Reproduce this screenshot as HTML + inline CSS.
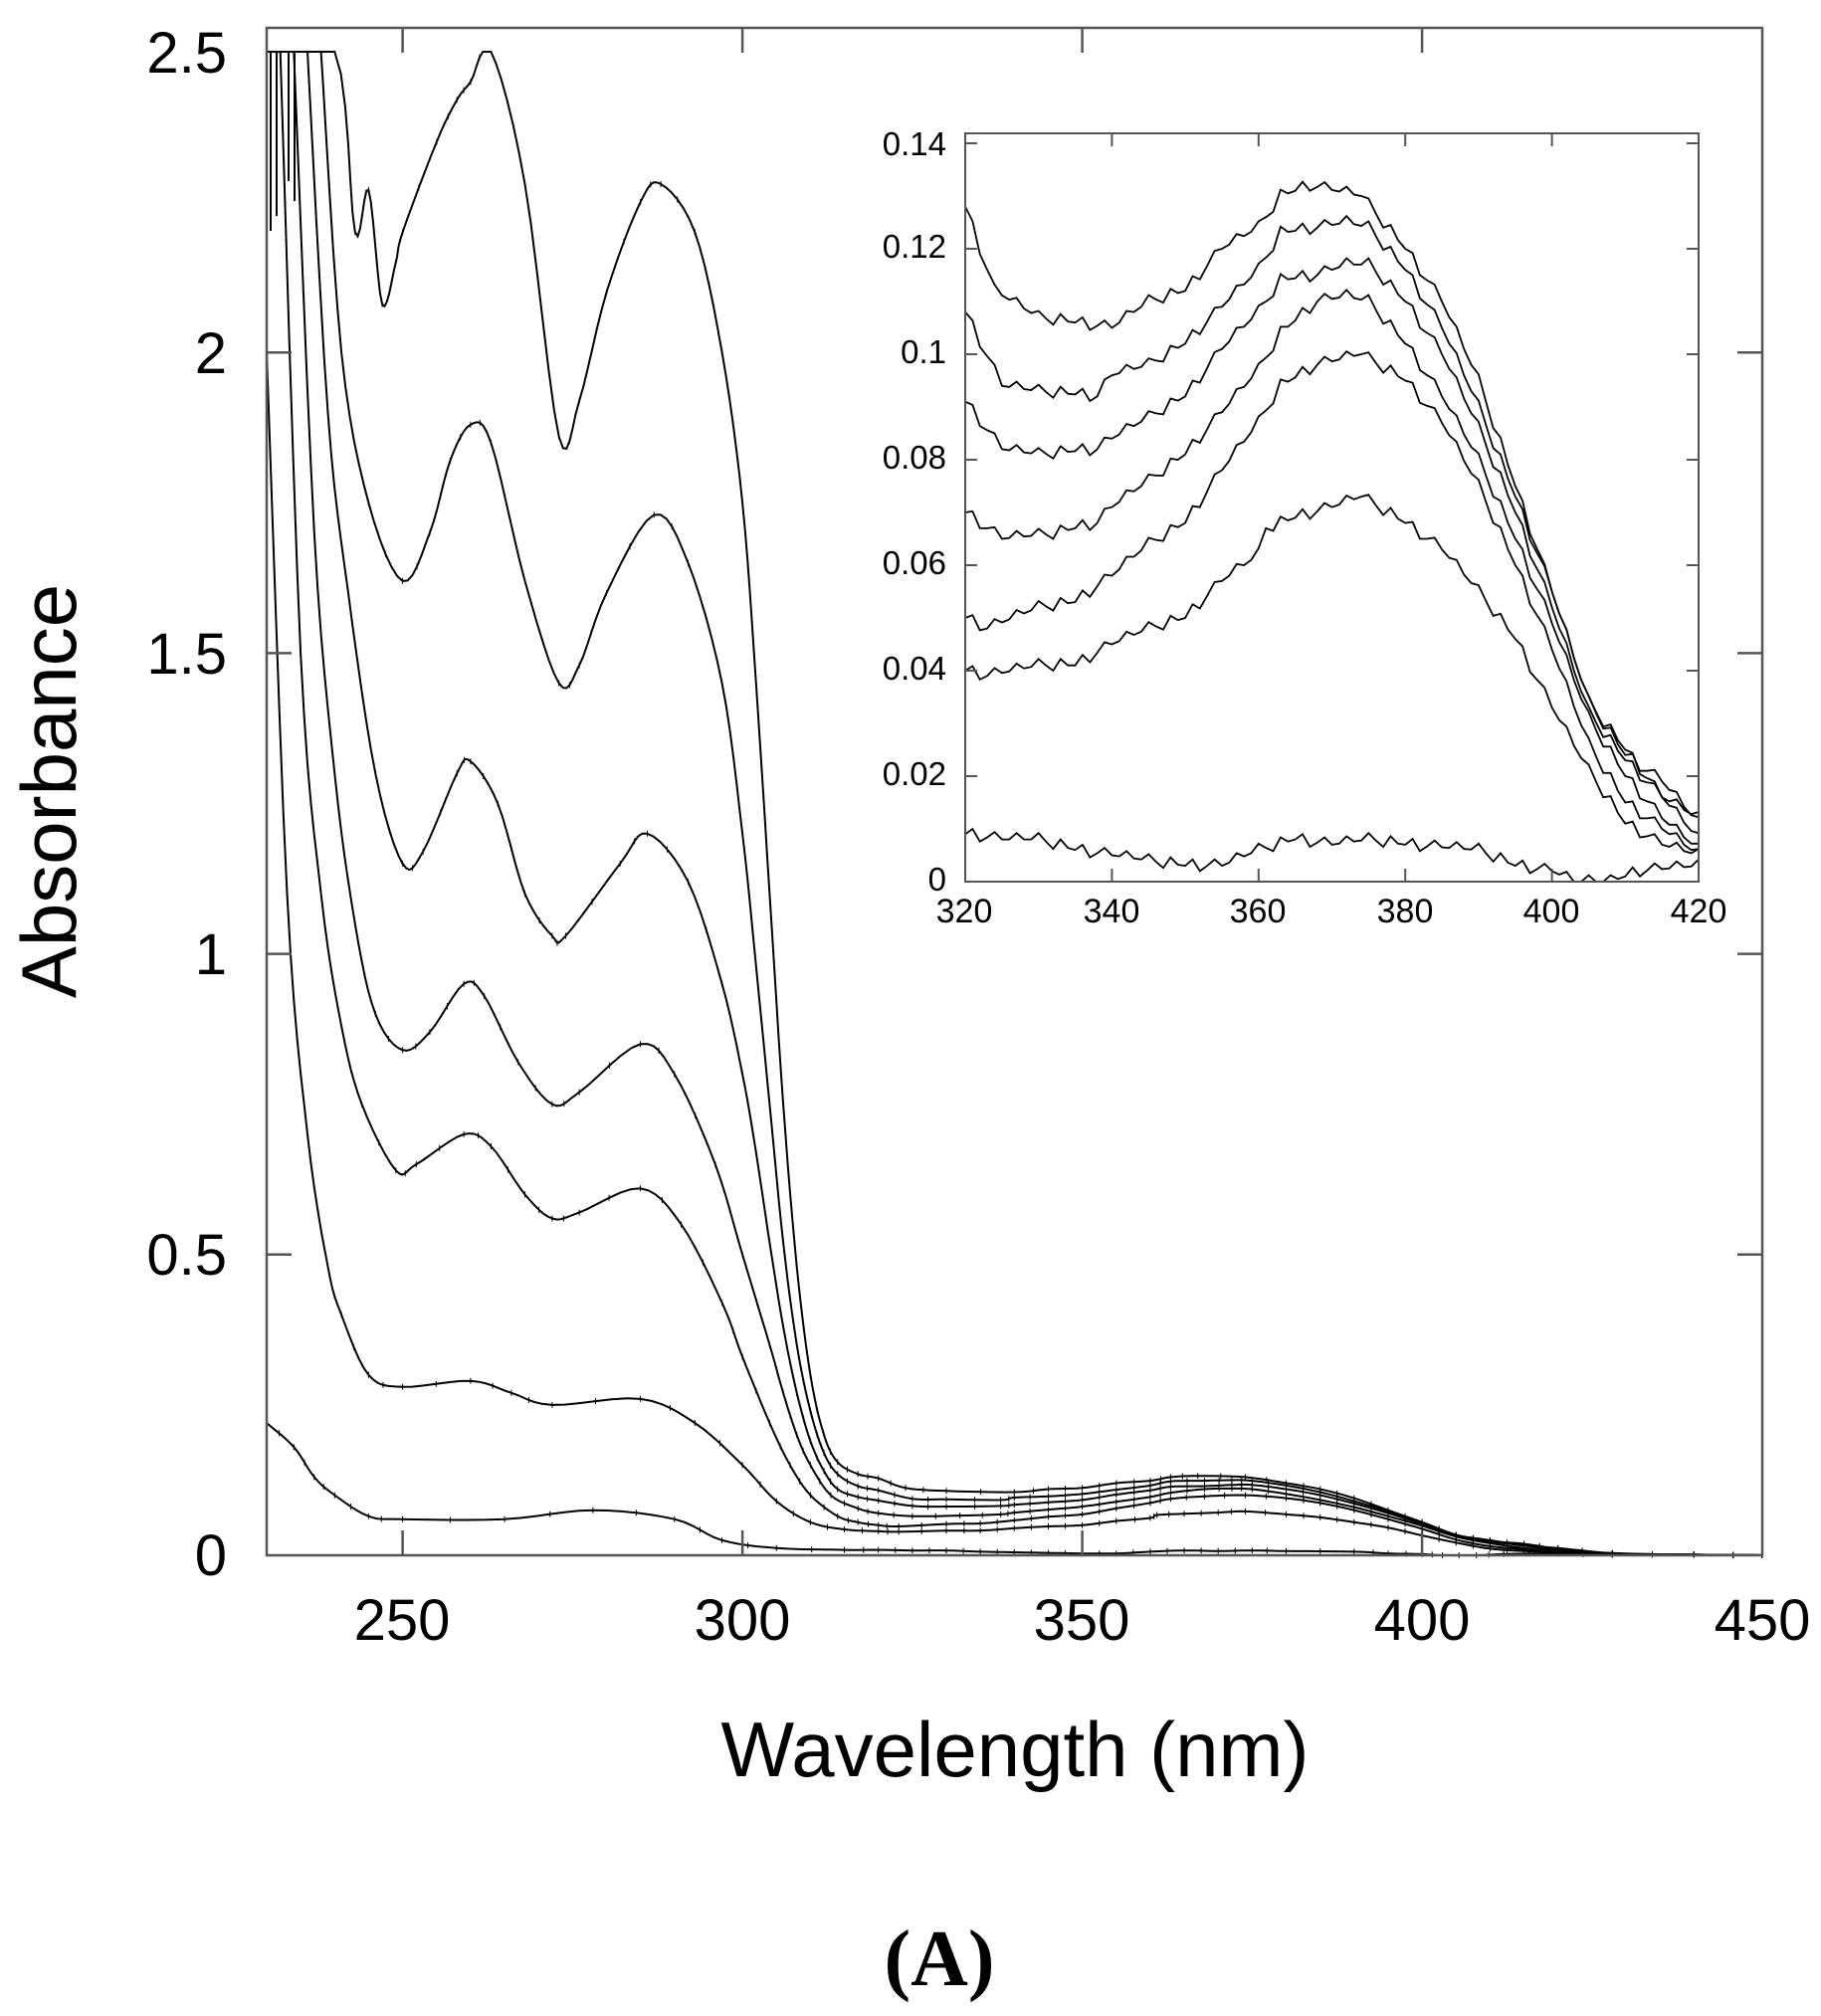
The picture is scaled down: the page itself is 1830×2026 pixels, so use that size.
<!DOCTYPE html>
<html><head><meta charset="utf-8"><style>
html,body{margin:0;padding:0;background:#fff;}
svg{display:block;}
text{font-family:"Liberation Sans",sans-serif;fill:#000;}
</style></head><body>
<svg id="s" width="1830" height="2026" viewBox="0 0 1830 2026" xmlns="http://www.w3.org/2000/svg">
<rect width="1830" height="2026" fill="#fff"/>
<g id="main"></g>
<g id="inset"></g>
<g font-size="58" text-anchor="end">
<text x="228" y="1583">0</text>
<text x="228" y="1281">0.5</text>
<text x="228" y="979">1</text>
<text x="228" y="677">1.5</text>
<text x="228" y="375">2</text>
<text x="228" y="73">2.5</text>
</g>
<g font-size="58" text-anchor="middle">
<text x="404" y="1648">250</text>
<text x="746" y="1648">300</text>
<text x="1087" y="1648">350</text>
<text x="1429" y="1648">400</text>
<text x="1771" y="1648">450</text>
</g>
<text x="1020" y="1785" font-size="78" text-anchor="middle">Wavelength (nm)</text>
<text transform="translate(76,795) rotate(-90)" font-size="78" text-anchor="middle">Absorbance</text>
<text x="944" y="1995" font-size="80" font-weight="bold" text-anchor="middle" style="font-family:'Liberation Serif',serif">(A)</text>
<g font-size="33" text-anchor="end">
<text x="951" y="895">0</text>
<text x="951" y="789">0.02</text>
<text x="951" y="683">0.04</text>
<text x="951" y="577">0.06</text>
<text x="951" y="471">0.08</text>
<text x="951" y="365">0.1</text>
<text x="951" y="259">0.12</text>
<text x="951" y="156">0.14</text>
</g>
<g font-size="34" text-anchor="middle">
<text x="969" y="927">320</text>
<text x="1117" y="927">340</text>
<text x="1264" y="927">360</text>
<text x="1412" y="927">380</text>
<text x="1559" y="927">400</text>
<text x="1707" y="927">420</text>
</g>
</svg>
<script>
var NS="http://www.w3.org/2000/svg";
function el(p,t,a){var e=document.createElementNS(NS,t);for(var k in a)e.setAttribute(k,a[k]);p.appendChild(e);return e;}
var M=document.getElementById('main'),I=document.getElementById('inset');
function MX(n){return 268+(n-230)*6.83;} function MY(a){return 1563-Math.max(0,Math.min(a,2.5))*604.4;}
function IX(n){return 970+(n-320)*7.37;} function IY(a){return 886-Math.max(a,0)*5300;}
var ins=[
[[320,.128],[324,.112],[330,.107],[340,.105],[345,.11],[350,.112],[355,.12],[360,.124],[363,.13],[367,.132],[374,.13],[380,.12],[385,.11],[390,.095],[395,.075],[400,.055],[405,.034],[410,.025],[415,.016],[420,.012]],
[[320,.108],[325,.094],[330,.093],[338,.092],[340,.096],[345,.098],[350,.102],[355,.109],[360,.116],[363,.123],[368,.124],[372,.125],[375,.124],[380,.116],[385,.105],[390,.09],[395,.073],[400,.055],[405,.034],[410,.024],[415,.019],[420,.011]],
[[320,.091],[325,.082],[330,.081],[338,.082],[340,.084],[345,.088],[350,.092],[355,.101],[360,.108],[363,.114],[368,.115],[372,.117],[375,.117],[380,.11],[385,.1],[390,.086],[395,.07],[400,.052],[405,.032],[410,.023],[415,.016],[420,.008]],
[[320,.07],[325,.065],[332,.066],[338,.068],[340,.071],[345,.076],[350,.081],[355,.089],[360,.097],[363,.104],[368,.11],[372,.111],[375,.11],[380,.102],[385,.092],[390,.08],[395,.065],[400,.049],[405,.031],[410,.02],[415,.012],[420,.006]],
[[320,.05],[323,.048],[330,.052],[335,.053],[340,.058],[345,.064],[350,.068],[355,.078],[360,.087],[363,.094],[368,.098],[374,.1],[380,.095],[385,.087],[390,.075],[395,.06],[400,.044],[405,.026],[410,.015],[415,.01],[420,.005]],
[[320,.04],[323,.039],[330,.041],[335,.041],[340,.045],[345,.048],[350,.05],[355,.057],[360,.062],[361,.067],[365,.069],[370,.071],[374,.073],[380,.068],[385,.063],[390,.055],[395,.046],[400,.033],[405,.021],[410,.011],[415,.007],[420,.005]],
[[320,.009],[325,.008],[330,.008],[335,.006],[340,.005],[345,.004],[350,.003],[355,.003],[360,.006],[365,.008],[370,.007],[375,.008],[380,.007],[390,.006],[395,.003],[400,.002],[403,0],[408,0],[412,.002],[420,.003]]];
var mainL=[
[[230,2.5],[240,2.5],[243,2.2],[245,2.27],[247,2.08],[249,2.15],[250,2.2],[255,2.35],[258,2.42],[260,2.45],[263,2.5],[268,2.28],[273,1.86],[276,1.92],[280,2.1],[285,2.25],[288,2.28],[293,2.2],[297,2.0],[300,1.75],[302,1.45],[304,1.1],[306,0.75],[308,0.48],[310,0.3],[312,0.2],[314,0.155],[317,0.135]],
[[238,2.5],[241,2.0],[245,1.75],[250,1.62],[254,1.7],[257,1.82],[260,1.88],[263,1.85],[268,1.62],[273,1.45],[276,1.48],[280,1.6],[287,1.73],[292,1.65],[297,1.45],[300,1.2],[302,0.98],[304,0.75],[306,0.52],[308,0.35],[310,0.24],[312,0.17],[314,0.135],[317,0.115]],
[[236,2.5],[239,1.9],[242,1.6],[246,1.3],[250,1.15],[253,1.17],[258,1.3],[260,1.32],[264,1.25],[268,1.1],[272,1.03],[274,1.03],[282,1.15],[286,1.2],[292,1.12],[297,0.95],[300,0.8],[302,0.67],[304,0.52],[306,0.38],[308,0.27],[310,0.19],[312,0.14],[314,0.11],[317,0.097]],
[[234,2.5],[237,1.7],[240,1.3],[243,1.05],[246,0.9],[250,0.84],[254,0.87],[259,0.95],[262,0.93],[267,0.82],[272,0.75],[276,0.77],[285,0.85],[290,0.8],[296,0.65],[300,0.5],[304,0.35],[306,0.27],[308,0.2],[310,0.15],[313,0.1],[317,0.078]],
[[232,2.5],[235,1.5],[238,1.1],[241,0.88],[244,0.75],[249,0.64],[252,0.65],[259,0.7],[263,0.68],[268,0.6],[272,0.56],[276,0.57],[285,0.61],[291,0.55],[297,0.42],[300,0.33],[304,0.22],[307,0.15],[310,0.1],[314,0.065],[317,0.055]],
[[230,2.0],[233,1.1],[236,0.7],[239,0.48],[241,0.4],[245,0.3],[250,0.28],[260,0.29],[266,0.27],[272,0.25],[285,0.26],[293,0.22],[300,0.15],[305,0.09],[310,0.055],[315,0.043]],
[[230,0.22],[234,0.18],[237,0.13],[240,0.1],[245,0.065],[250,0.06],[265,0.06],[278,0.075],[290,0.06],[297,0.025],[305,0.012],[315,0.009]]];
function interp(pts,step){var o=[];for(var i=0;i<pts.length-1;i++){var a=pts[i],b=pts[i+1];for(var x=a[0];x<b[0];x+=step){var t=(x-a[0])/(b[0]-a[0]);o.push([x,a[1]+(b[1]-a[1])*t]);}}o.push(pts[pts.length-1]);return o;}
function spline(pts,n){var o=[];for(var i=0;i<pts.length-1;i++){var p0=pts[Math.max(i-1,0)],p1=pts[i],p2=pts[i+1],p3=pts[Math.min(i+2,pts.length-1)];for(var j=0;j<n;j++){var t=j/n,t2=t*t,t3=t2*t;var f=function(a,b,c,d){return 0.5*((2*b)+(-a+c)*t+(2*a-5*b+4*c-d)*t2+(-a+3*b-3*c+d)*t3);};o.push([f(p0[0],p1[0],p2[0],p3[0]),f(p0[1],p1[1],p2[1],p3[1])]);}}o.push(pts[pts.length-1]);return o;}
for(var k=0;k<7;k++){
 var full=mainL[k].concat(ins[k]).concat([[428,ins[k][ins[k].length-1][1]*0.3],[440,0.001],[450,0]]);
 var sp=spline(full,6);
 var d=sp.map(function(p,i){return (i?'L':'M')+MX(p[0]).toFixed(1)+' '+MY(p[1]).toFixed(1);}).join('');
 el(M,'path',{d:d,fill:'none',stroke:'#000','stroke-width':2});
 var dd='';
 sp.forEach(function(p,i){if(i%3||p[1]>=2.5)return;var x=MX(p[0]),y=MY(p[1]);dd+='M'+x.toFixed(1)+' '+(y-3).toFixed(1)+'v6';});
 el(M,'path',{d:dd,stroke:'#000','stroke-width':1});
 var s=interp(ins[k],1),di='';
 s.forEach(function(p,i){var j=(i%3==1)?0.0012:(i%5==2?-0.001:0);di+=(i?'L':'M')+IX(p[0]).toFixed(1)+' '+IY(p[1]+j).toFixed(1);});
 el(I,'path',{d:di,fill:'none',stroke:'#000','stroke-width':1.8});
}
[[272,52,180],[278,52,165],[290,52,130],[296,52,150]].forEach(function(v){el(M,'line',{x1:v[0],y1:v[1],x2:v[0],y2:v[1]+v[2],stroke:'#000','stroke-width':2});});
el(M,'rect',{x:268,y:28,width:1503,height:1535,fill:'none',stroke:'#555','stroke-width':2.5});
[250,300,350,400].forEach(function(n){var x=MX(n);el(M,'line',{x1:x,y1:1563,x2:x,y2:1538,stroke:'#555','stroke-width':2.5});el(M,'line',{x1:x,y1:28,x2:x,y2:53,stroke:'#555','stroke-width':2.5});});
[0.5,1,1.5,2].forEach(function(a){var y=MY(a);el(M,'line',{x1:268,y1:y,x2:293,y2:y,stroke:'#555','stroke-width':2.5});el(M,'line',{x1:1771,y1:y,x2:1746,y2:y,stroke:'#555','stroke-width':2.5});});
el(I,'rect',{x:970,y:134,width:737,height:752,fill:'none',stroke:'#555','stroke-width':2});
[340,360,380,400].forEach(function(n){var x=IX(n);el(I,'line',{x1:x,y1:886,x2:x,y2:873,stroke:'#555','stroke-width':2});el(I,'line',{x1:x,y1:134,x2:x,y2:147,stroke:'#555','stroke-width':2});});
[0.02,0.04,0.06,0.08,0.1,0.12,0.14].forEach(function(a){var y=IY(a);el(I,'line',{x1:970,y1:y,x2:982,y2:y,stroke:'#555','stroke-width':2});el(I,'line',{x1:1707,y1:y,x2:1695,y2:y,stroke:'#555','stroke-width':2});});
</script>
</body></html>
